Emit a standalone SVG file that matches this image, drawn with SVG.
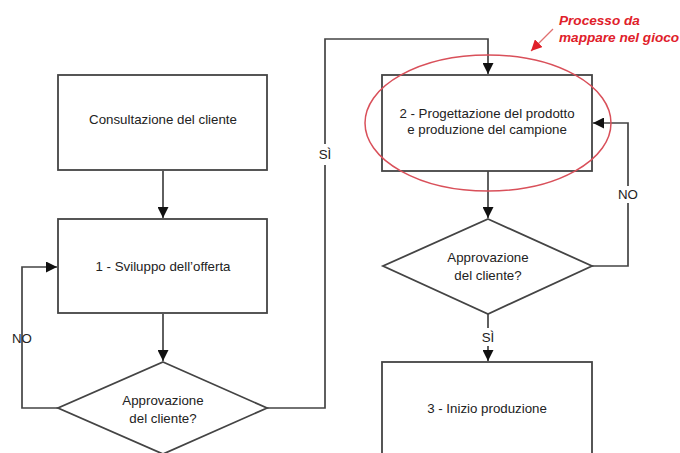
<svg xmlns="http://www.w3.org/2000/svg" width="680" height="453" viewBox="0 0 680 453">
  <defs>
    <marker id="arr" viewBox="0 0 10 10" refX="10" refY="5" markerWidth="11" markerHeight="11" markerUnits="userSpaceOnUse" orient="auto">
      <path d="M0,0 L10,5 L0,10 z" fill="#111"/>
    </marker>
    <marker id="arrRed" viewBox="0 0 10 10" refX="10" refY="5" markerWidth="11" markerHeight="11" markerUnits="userSpaceOnUse" orient="auto">
      <path d="M0,0 L10,5 L0,10 z" fill="#e0202a"/>
    </marker>
    <style>
      .box { fill: #fff; stroke: #444; stroke-width: 1.8; }
      .edge { fill: none; stroke: #444; stroke-width: 1.7; marker-end: url(#arr); }
      .line { fill: none; stroke: #444; stroke-width: 1.7; }
      .lbl { font-family: "Liberation Sans", Arial, sans-serif; font-size: 13.3px; fill: #222; text-anchor: middle; }
      .note { font-family: "Liberation Sans", Arial, sans-serif; font-size: 13.6px; font-weight: bold; font-style: italic; fill: #e0202a; }
    </style>
  </defs>
  <rect width="680" height="453" fill="#fff"/>

  <!-- connectors -->
  <g id="connectors">
    <line class="edge" x1="163" y1="171" x2="163" y2="218"/>
    <line class="edge" x1="163" y1="314" x2="163" y2="361"/>
    <polyline class="edge" points="58,408 22,408 22,267 57,267"/>
    <polyline class="line" points="267,408 325,408 325,165"/>
    <polyline class="edge" points="325,144 325,39 488,39 488,74"/>
    <line class="edge" x1="488" y1="171" x2="488" y2="218"/>
    <polyline class="line" points="592,266 628,266 628,203"/>
    <polyline class="edge" points="628,186 628,123 593,123"/>
    <line class="line" x1="488" y1="314" x2="488" y2="328"/>
    <line class="edge" x1="488" y1="346" x2="488" y2="361"/>
    <text class="lbl" x="22" y="343">NO</text>
    <text class="lbl" x="325" y="159">SÌ</text>
    <text class="lbl" x="628" y="199">NO</text>
    <text class="lbl" x="488" y="342">SÌ</text>
  </g>

  <g id="consultazione">
    <rect class="box" x="58" y="75" width="209" height="95"/>
    <text class="lbl" x="163" y="124">Consultazione del cliente</text>
  </g>

  <g id="sviluppo">
    <rect class="box" x="58" y="219" width="209" height="94"/>
    <text class="lbl" x="163" y="271">1 - Sviluppo dell’offerta</text>
  </g>

  <g id="approvazione1">
    <polygon class="box" points="163,362 267,408 163,454 58,408"/>
    <text class="lbl" x="163" y="405">Approvazione</text>
    <text class="lbl" x="163" y="423">del cliente?</text>
  </g>

  <g id="progettazione">
    <rect class="box" x="382" y="75" width="210" height="96"/>
    <text class="lbl" x="487" y="118">2 - Progettazione del prodotto</text>
    <text class="lbl" x="487" y="134">e produzione del campione</text>
  </g>

  <g id="approvazione2">
    <polygon class="box" points="488,219 592,266 488,314 383,266"/>
    <text class="lbl" x="488" y="262">Approvazione</text>
    <text class="lbl" x="488" y="280">del cliente?</text>
  </g>

  <g id="produzione">
    <rect class="box" x="382" y="362" width="210" height="100"/>
    <text class="lbl" x="487" y="413">3 - Inizio produzione</text>
  </g>

  <!-- highlighted process -->
  <g id="evidenza">
    <ellipse cx="488" cy="123" rx="123" ry="68" fill="none" stroke="#d9505a" stroke-width="1.5"/>
    <line x1="553" y1="29" x2="531" y2="51" stroke="#e07070" stroke-width="1.3" marker-end="url(#arrRed)"/>
    <text class="note" x="559" y="25">Processo da</text>
    <text class="note" x="559" y="42">mappare nel gioco</text>
  </g>
</svg>
